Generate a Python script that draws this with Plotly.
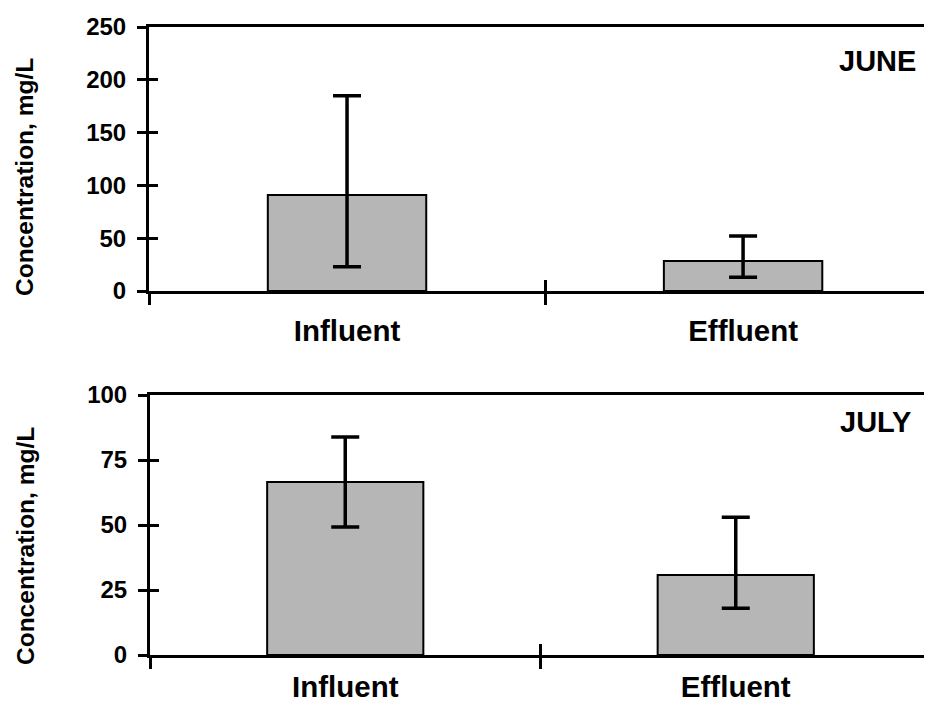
import plotly.graph_objects as go

categories = ["Influent", "Effluent"]
june_mean = [91, 28.5]
june_upper = [185, 52]
june_lower = [23, 13]
july_mean = [66.5, 30.8]
july_upper = [83.8, 53]
july_lower = [49.2, 18]
june_ticks = [0, 50, 100, 150, 200, 250]
july_ticks = [0, 25, 50, 75, 100]

# the page body has an 8px margin; size the figure to fill the rest of the window
OFF = 8
W, H = 932 - OFF, 702 - OFF
FONT = "Liberation Sans, Arial, sans-serif"
BAR_FILL = "#b6b6b6"

def px_x(p):
    return (p - OFF) / W

def px_y(p):
    return 1 - (p - OFF) / H

fig = go.Figure()

def add_bars(mean, upper, lower, xa, ya):
    fig.add_trace(go.Bar(
        x=categories, y=mean, xaxis=xa, yaxis=ya, width=0.4,
        marker=dict(color=BAR_FILL, line=dict(color="black", width=2)),
        error_y=dict(type="data", symmetric=False,
                     array=[u - m for u, m in zip(upper, mean)],
                     arrayminus=[m - l for m, l in zip(mean, lower)],
                     color="black", thickness=3.5, width=14),
        showlegend=False, hoverinfo="skip"))

add_bars(june_mean, june_upper, june_lower, "x", "y")
add_bars(july_mean, july_upper, july_lower, "x2", "y2")

top_dom_y = [px_y(291), px_y(27)]
bot_dom_y = [px_y(655), px_y(395)]
top_dom_x = [px_x(149), 1.0]
bot_dom_x = [px_x(150), px_x(931)]
n = len(categories)
boundaries = [i - 0.5 for i in range(n)]

axis_common = dict(showgrid=False, zeroline=False, linecolor="black", linewidth=3,
                   tickcolor="black", tickwidth=2.5, automargin=False)
over_common = dict(showticklabels=False, showline=False, showgrid=False, zeroline=False,
                   tickcolor="black", tickwidth=2.5, automargin=False)
tickfont = dict(family=FONT, size=24, color="black", weight="bold")
catfont = dict(family=FONT, size=29.5, color="black", weight="bold")

fig.update_layout(
    width=W, height=H, margin=dict(l=0, r=0, t=0, b=0, autoexpand=False),
    paper_bgcolor="white", plot_bgcolor="white", bargap=0.6,
    xaxis=dict(domain=top_dom_x, anchor="y", type="category", range=[-0.5, n - 0.523],
               tickson="boundaries", ticks="outside", ticklen=11, mirror=True,
               tickfont=catfont, ticklabelstandoff=12, **axis_common),
    yaxis=dict(domain=top_dom_y, anchor="x", range=[0, 250], tickvals=june_ticks,
               ticks="outside", ticklen=9, mirror=False, tickfont=tickfont,
               ticklabelstandoff=6, **axis_common),
    xaxis2=dict(domain=bot_dom_x, anchor="y2", type="category", range=[-0.5, n - 0.5],
                tickson="boundaries", ticks="outside", ticklen=11, mirror=True,
                tickfont=catfont, ticklabelstandoff=4, **axis_common),
    yaxis2=dict(domain=bot_dom_y, anchor="x2", range=[0, 100], tickvals=july_ticks,
                ticks="outside", ticklen=9, mirror=True, tickfont=tickfont,
                ticklabelstandoff=6, **axis_common),
    # inside tick halves (cross ticks)
    xaxis3=dict(overlaying="x", anchor="y", range=[-0.5, n - 0.523], tickvals=boundaries,
                ticks="inside", ticklen=11, **over_common),
    yaxis3=dict(overlaying="y", anchor="x", side="left", range=[0, 250], tickvals=june_ticks,
                ticks="inside", ticklen=9, **over_common),
    xaxis4=dict(overlaying="x2", anchor="y2", range=[-0.5, n - 0.5], tickvals=boundaries,
                ticks="inside", ticklen=11, **over_common),
    yaxis4=dict(overlaying="y2", anchor="x2", side="left", range=[0, 100], tickvals=july_ticks,
                ticks="inside", ticklen=9, **over_common),
)

# invisible traces so overlay axes are drawn
fig.add_trace(go.Scatter(x=[None], y=[None], xaxis="x3", yaxis="y3", showlegend=False, hoverinfo="skip"))
fig.add_trace(go.Scatter(x=[None], y=[None], xaxis="x4", yaxis="y4", showlegend=False, hoverinfo="skip"))

ytitle = "Concentration, mg/L"
for yc in (px_y(177), px_y(546)):
    fig.add_annotation(text=ytitle, x=px_x(25), y=yc, xref="paper", yref="paper",
                       textangle=-90, showarrow=False, xanchor="center", yanchor="middle",
                       font=dict(family=FONT, size=24.5, color="black", weight="bold"))

fig.add_annotation(text="JUNE", x=px_x(918), y=px_y(61), xref="paper", yref="paper",
                   showarrow=False, xanchor="right", yanchor="middle",
                   font=dict(family=FONT, size=29, color="black", weight="bold"))
fig.add_annotation(text="JULY", x=px_x(913), y=px_y(422), xref="paper", yref="paper",
                   showarrow=False, xanchor="right", yanchor="middle",
                   font=dict(family=FONT, size=29, color="black", weight="bold"))

fig.write_html("out.html")
